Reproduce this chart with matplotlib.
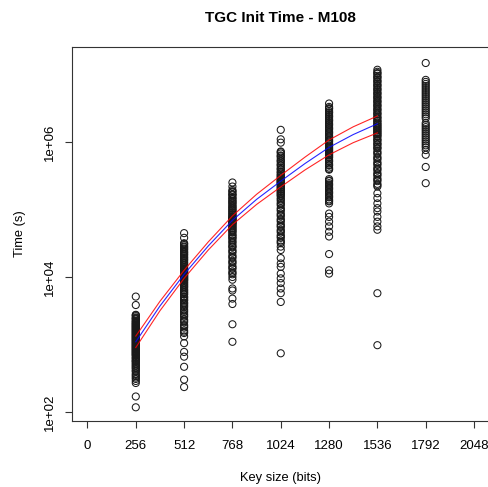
import numpy as np
import matplotlib
matplotlib.use("Agg")
import matplotlib.pyplot as plt

plt.rcParams['font.family'] = ['Liberation Sans', 'DejaVu Sans']

# log10(time in seconds), per key size
key_sizes = [256, 512, 768, 1024, 1280, 1536, 1792]
log_t_256 = [3.71, 3.585, 3.44, 3.42, 3.40, 3.38, 3.37, 3.35, 3.33, 3.31, 3.30, 3.28, 3.26,
             3.25, 3.23, 3.21, 3.20, 3.18, 3.16, 3.15, 3.13, 3.12, 3.10, 3.08, 3.07, 3.05,
             3.04, 3.02, 3.00, 2.99, 2.97, 2.95, 2.94, 2.92, 2.90, 2.88, 2.86, 2.84, 2.81,
             2.79, 2.76, 2.74, 2.71, 2.68, 2.66, 2.63, 2.60, 2.57, 2.53, 2.49, 2.46, 2.43,
             2.23, 2.07,
             3.435, 3.39, 3.345, 3.32, 3.29, 3.27, 3.24, 3.22, 3.19, 3.17, 3.14, 3.11, 3.09,
             3.06, 3.03, 3.01, 2.98, 2.96, 2.93, 2.91, 2.89, 2.87, 2.85, 2.83, 2.80, 2.77,
             2.75, 2.72, 2.69, 2.65, 2.61, 2.55, 2.51]
log_t_512 = [4.65, 4.58, 4.50, 4.47, 4.44, 4.42, 4.39, 4.36, 4.34, 4.31, 4.28, 4.26, 4.23,
             4.20, 4.18, 4.15, 4.12, 4.10, 4.08, 4.06, 4.04, 4.02, 4.00, 3.98, 3.96, 3.94,
             3.91, 3.88, 3.86, 3.83, 3.80, 3.77, 3.74, 3.71, 3.68, 3.65, 3.62, 3.59, 3.55,
             3.52, 3.48, 3.45, 3.41, 3.37, 3.33, 3.29, 3.25, 3.21, 3.17, 3.12, 3.02, 2.89,
             2.82, 2.67, 2.48, 2.37,
             4.49, 4.45, 4.41, 4.37, 4.33, 4.29, 4.25, 4.21, 4.17, 4.13, 4.11, 4.09, 4.07,
             4.05, 4.03, 4.01, 3.99, 3.97, 3.95, 3.92, 3.89, 3.85, 3.81, 3.78, 3.75, 3.70,
             3.66, 3.61, 3.57, 3.50, 3.43, 3.35, 3.27, 3.19]
log_t_768 = [5.40, 5.34, 5.29, 5.26, 5.23, 5.21, 5.18, 5.15, 5.12, 5.10, 5.07, 5.04, 5.01,
             4.98, 4.96, 4.93, 4.90, 4.88, 4.86, 4.84, 4.82, 4.80, 4.78, 4.75, 4.72, 4.69,
             4.66, 4.63, 4.60, 4.57, 4.54, 4.50, 4.47, 4.44, 4.40, 4.36, 4.32, 4.28, 4.24,
             4.20, 4.16, 4.12, 4.08, 4.04, 4.00, 3.96, 3.83, 3.80, 3.68, 3.60, 3.30, 3.04,
             5.27, 5.22, 5.17, 5.13, 5.09, 5.05, 5.02, 4.99, 4.95, 4.92, 4.89, 4.87, 4.85,
             4.83, 4.81, 4.79, 4.76, 4.73, 4.70, 4.67, 4.62, 4.58, 4.52, 4.45, 4.38, 4.30,
             4.22, 4.14, 4.06]
log_t_1024 = [6.18, 6.04, 5.99, 5.86, 5.83, 5.80, 5.77, 5.74, 5.71, 5.68, 5.65, 5.62, 5.59,
              5.56, 5.53, 5.50, 5.47, 5.44, 5.42, 5.40, 5.38, 5.35, 5.32, 5.29, 5.26, 5.23,
              5.20, 5.17, 5.13, 5.10, 5.06, 5.02, 4.98, 4.94, 4.90, 4.86, 4.82, 4.78, 4.74,
              4.70, 4.66, 4.62, 4.58, 4.54, 4.50, 4.45, 4.40, 4.28, 4.20, 4.15, 4.05, 3.98,
              3.91, 3.83, 3.76, 3.63, 2.87,
              5.85, 5.79, 5.72, 5.66, 5.60, 5.55, 5.51, 5.48, 5.45, 5.43, 5.41, 5.39, 5.36,
              5.33, 5.30, 5.27, 5.24, 5.21, 5.15, 5.08, 5.00, 4.92, 4.84, 4.76, 4.68, 4.60,
              4.52]
log_t_1280 = [6.57, 6.52, 6.49, 6.46, 6.43, 6.40, 6.37, 6.34, 6.31, 6.28, 6.25, 6.22, 6.19,
              6.16, 6.13, 6.10, 6.07, 6.04, 6.01, 5.98, 5.95, 5.92, 5.89, 5.86, 5.83, 5.80,
              5.77, 5.74, 5.71, 5.68, 5.65, 5.62, 5.59, 5.45, 5.42, 5.39, 5.36, 5.33, 5.30,
              5.27, 5.24, 5.21, 5.18, 5.15, 5.12, 5.09, 4.94, 4.89, 4.82, 4.75, 4.67, 4.60,
              4.34, 4.10, 4.05,
              6.50, 6.44, 6.38, 6.32, 6.26, 6.20, 6.14, 6.08, 6.02, 5.97, 5.93, 5.90, 5.87,
              5.84, 5.81, 5.78, 5.72, 5.66, 5.60, 5.43, 5.37, 5.31, 5.25, 5.19, 5.13]
log_t_1536 = [7.07, 7.04, 7.01, 6.98, 6.95, 6.92, 6.89, 6.86, 6.83, 6.80, 6.77, 6.74, 6.71,
              6.68, 6.65, 6.62, 6.59, 6.56, 6.53, 6.50, 6.47, 6.44, 6.41, 6.38, 6.35, 6.32,
              6.29, 6.26, 6.23, 6.20, 6.17, 6.14, 6.11, 6.08, 6.05, 6.02, 5.99, 5.96, 5.93,
              5.90, 5.86, 5.82, 5.78, 5.74, 5.70, 5.66, 5.62, 5.58, 5.54, 5.50, 5.46, 5.42,
              5.38, 5.34, 5.24, 5.17, 5.09, 5.02, 4.97, 4.89, 4.82, 4.75, 4.70, 3.76, 2.99,
              7.02, 6.96, 6.90, 6.84, 6.78, 6.72, 6.66, 6.60, 6.54, 6.48, 6.42, 6.36, 6.31,
              6.27, 6.24, 6.21, 6.18, 6.15, 6.12, 6.09, 6.03, 5.97, 5.91, 5.84, 5.76, 5.68,
              5.60, 5.52, 5.44, 5.36]
log_t_1792 = [7.17, 6.92, 6.89, 6.86, 6.83, 6.80, 6.77, 6.74, 6.71, 6.68, 6.65, 6.62, 6.59,
              6.56, 6.53, 6.50, 6.47, 6.44, 6.41, 6.38, 6.35, 6.28, 6.25, 6.22, 6.19, 6.16,
              6.13, 6.10, 6.07, 6.04, 6.01, 5.98, 5.95, 5.92, 5.88, 5.81, 5.63, 5.39]

# fitted curve and band (log10 seconds)
fit_x = [256, 384, 512, 640, 768, 896, 1024, 1152, 1280, 1408, 1536]
fit_log = [3.04, 3.57, 4.04, 4.46, 4.84, 5.15, 5.42, 5.68, 5.92, 6.11, 6.27]
upper_log = [3.125, 3.64, 4.10, 4.52, 4.905, 5.225, 5.505, 5.775, 6.03, 6.225, 6.385]
lower_log = [2.955, 3.50, 3.98, 4.40, 4.775, 5.075, 5.335, 5.585, 5.81, 5.99, 6.135]

x_ticks = [0, 256, 512, 768, 1024, 1280, 1536, 1792, 2048]
y_ticks = [1e2, 1e4, 1e6]
y_tick_labels = ['1e+02', '1e+04', '1e+06']

groups = [log_t_256, log_t_512, log_t_768, log_t_1024, log_t_1280, log_t_1536, log_t_1792]

W, H = 488, 487
fig = plt.figure(figsize=(W / 100, H / 100), dpi=100)
ax = fig.add_axes([72 / W, 1 - 421 / H, (489.5 - 72) / W, (421 - 47) / H])

for k, vals in zip(key_sizes, groups):
    ax.scatter([k] * len(vals), 10 ** np.array(vals), s=26, facecolors='none',
               edgecolors='#1a1a1a', linewidths=0.75, zorder=2)

ax.plot(fit_x, 10 ** np.array(fit_log), color='blue', lw=0.8, alpha=0.85, zorder=3)
ax.plot(fit_x, 10 ** np.array(upper_log), color='red', lw=0.8, alpha=0.85, zorder=3)
ax.plot(fit_x, 10 ** np.array(lower_log), color='red', lw=0.8, alpha=0.85, zorder=3)

ax.set_yscale('log')
ax.set_xlim(-81.92, 2129.92)
ax.set_ylim(10 ** 1.867, 10 ** 7.407)
ax.set_xticks(x_ticks)
ax.set_xticklabels([str(t) for t in x_ticks])
ax.set_yticks(y_ticks)
ax.set_yticklabels(y_tick_labels, rotation=90, va='center')
ax.yaxis.set_minor_locator(matplotlib.ticker.NullLocator())
ax.tick_params(axis='both', direction='out', length=5, width=0.8, labelsize=9.5,
               color='#333333')
ax.tick_params(axis='x', pad=8.5)
ax.tick_params(axis='y', pad=6.5)
for sp in ax.spines.values():
    sp.set_linewidth(0.8)
    sp.set_color('#333333')

fig.text(280.5 / W, 1 - 18 / H, 'TGC Init Time - M108', ha='center', va='center',
         fontsize=11, fontweight='bold')
fig.text(280.5 / W, 1 - 478 / H, 'Key size (bits)', ha='center', va='center', fontsize=9.3)
fig.text(20 / W, 1 - 234 / H, 'Time (s)', ha='center', va='center', fontsize=9.3,
         rotation=90)

fig.savefig('out.png', dpi=100)
